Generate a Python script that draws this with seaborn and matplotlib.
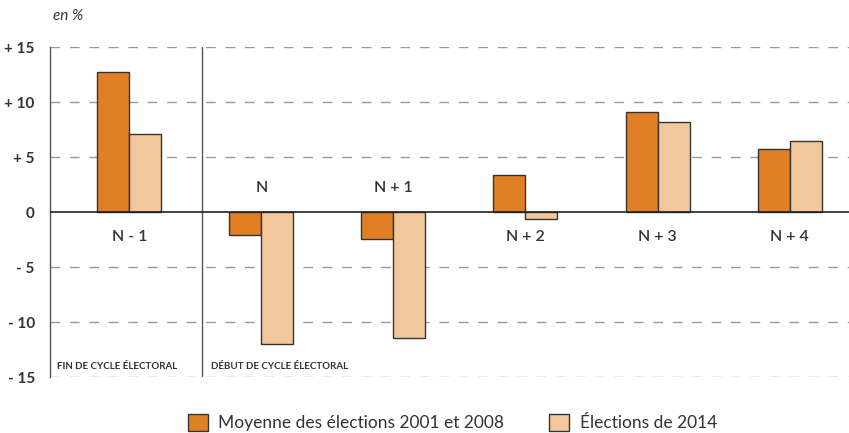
import pandas as pd
import seaborn as sns
import matplotlib.pyplot as plt

sns.set_theme(style="white")
plt.rcParams['font.family'] = ['Lato', 'DejaVu Sans']

# data (variation in %)
periods = ['N - 1', 'N', 'N + 1', 'N + 2', 'N + 3', 'N + 4']
moyenne_2001_2008 = [12.7, -2.1, -2.4, 3.4, 9.1, 5.7]
elections_2014 = [7.1, -12.0, -11.4, -0.6, 8.2, 6.5]
series_names = ['Moyenne des élections 2001 et 2008', 'Élections de 2014']
# label above the zero line for groups whose bars go down
label_above = [False, True, True, False, False, False]
y_ticks = [15, 10, 5, 0, -5, -10, -15]
y_labels = ['+ 15', '+ 10', '+ 5', '0', '- 5', '- 10', '- 15']

df = pd.DataFrame({
    'période': periods * 2,
    'valeur': moyenne_2001_2008 + elections_2014,
    'série': [series_names[0]] * len(periods) + [series_names[1]] * len(periods),
})

orange = '#E07F26'
light = '#F2C79C'
dark = '#333333'

fig = plt.figure(figsize=(8.49, 4.33), dpi=100)
ax = fig.add_axes([0.059, 0.129, 0.941, 0.762])

sns.barplot(data=df, x='période', y='valeur', hue='série', order=periods,
            hue_order=series_names, palette=[orange, light], width=0.485,
            gap=0, edgecolor=dark, linewidth=1, saturation=1, ax=ax, zorder=3)

ax.set_ylim(-15, 15)
ax.set_xlim(-0.6, 5.45)
ax.set_yticks(y_ticks)
ax.set_yticklabels(y_labels, fontsize=11, fontweight='bold', color=dark)
ax.set_xticks([])
ax.set_xlabel('')
ax.set_ylabel('')
ax.tick_params(axis='y', length=0, pad=11)

for s in ['top', 'right', 'bottom']:
    ax.spines[s].set_visible(False)
ax.spines['left'].set_color('#555555')
ax.spines['left'].set_linewidth(1)

# dashed grid lines
for v in y_ticks:
    if v != 0:
        ax.axhline(v, color='#999999', lw=1, ls=(0, (7, 7)), zorder=1)
ax.axhline(0, color='#222222', lw=1.2, zorder=4)

# divider between end and start of electoral cycle
ax.axvline(0.553, color='#555555', lw=1, zorder=2)
ax.text(-0.545, -14.0, 'FIN DE CYCLE ÉLECTORAL', fontsize=7,
        fontweight='bold', color=dark, va='center', ha='left')
ax.text(0.62, -14.0, 'DÉBUT DE CYCLE ÉLECTORAL', fontsize=7,
        fontweight='bold', color=dark, va='center', ha='left')

for i, (lab, above) in enumerate(zip(periods, label_above)):
    ax.text(i, 2.2 if above else -2.3, lab, ha='center', va='center',
            fontsize=11.5, fontweight='semibold', color=dark)

fig.text(0.063, 0.962, 'en %', fontsize=11, style='italic', color=dark,
         ha='left', va='center')

ax.legend(loc='center', bbox_to_anchor=(0.533, 0.024),
          bbox_transform=fig.transFigure, ncol=2,
          frameon=False, fontsize=12.5, handlelength=1.15, handleheight=1.15,
          columnspacing=2.6, handletextpad=0.6, labelcolor=dark)

fig.savefig('out.png', dpi=100)
